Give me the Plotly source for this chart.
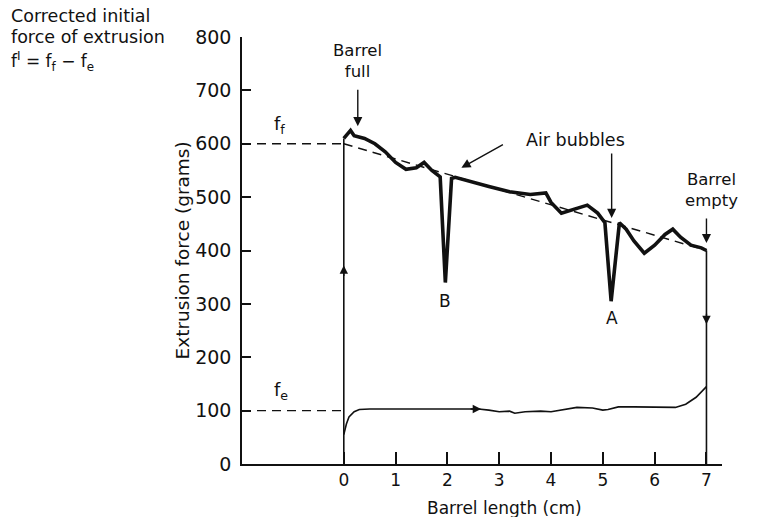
import plotly.graph_objects as go

# ---- data ----
top_x = [0, 0.13, 0.2, 0.4, 0.6, 0.8, 1.0, 1.2, 1.4, 1.55, 1.7, 1.82, 1.86,
         1.96, 2.08, 2.15, 2.4, 2.8, 3.2, 3.6, 3.9, 4.0, 4.2, 4.45, 4.7, 4.9,
         5.0, 5.04, 5.16, 5.32, 5.45, 5.6, 5.8, 6.0, 6.2, 6.35, 6.5, 6.7, 6.9, 7.0]
top_y = [610, 625, 615, 610, 600, 585, 565, 552, 555, 565, 550, 542, 538,
         340, 535, 537, 530, 520, 510, 505, 508, 490, 470, 477, 485, 470,
         455, 452, 305, 452, 440, 418, 395, 410, 430, 440, 425, 410, 405, 400]
rise_x = [0, 0]
rise_y = [0, 610]
fall_x = [7, 7]
fall_y = [400, 0]
fe_x = [0, 0.05, 0.1, 0.2, 0.3, 0.5, 1.0, 2.0, 2.6, 2.8, 3.0, 3.2, 3.3, 3.5, 3.8,
        4.0, 4.3, 4.5, 4.8, 5.0, 5.1, 5.3, 5.6, 6.0, 6.4, 6.6, 6.8, 7.0]
fe_y = [55, 75, 88, 98, 102, 103, 103, 103, 103, 101, 98, 99, 95, 98, 99,
        98, 103, 106, 105, 101, 102, 107, 107, 106, 106, 112, 125, 145]
ff_level = 600
fe_level = 100
trend_x = [0, 7]
trend_y = [600, 400]
x_ticks = [0, 1, 2, 3, 4, 5, 6, 7]
y_ticks = [0, 100, 200, 300, 400, 500, 600, 700, 800]

X_MIN, X_MAX = -1.965, 7.3
FONT = "DejaVu Sans"
BLACK = "#111111"

fig = go.Figure()
dash = "9px,6px"
fig.add_trace(go.Scatter(x=[X_MIN, 0], y=[ff_level, ff_level], mode="lines",
                         line=dict(color=BLACK, width=1.4, dash=dash)))
fig.add_trace(go.Scatter(x=trend_x, y=trend_y, mode="lines",
                         line=dict(color=BLACK, width=1.4, dash=dash)))
fig.add_trace(go.Scatter(x=[X_MIN, 0], y=[fe_level, fe_level], mode="lines",
                         line=dict(color=BLACK, width=1.4, dash=dash)))
fig.add_trace(go.Scatter(x=rise_x, y=rise_y, mode="lines", line=dict(color=BLACK, width=1.6)))
fig.add_trace(go.Scatter(x=fall_x, y=fall_y, mode="lines", line=dict(color=BLACK, width=1.6)))
fig.add_trace(go.Scatter(x=fe_x, y=fe_y, mode="lines", line=dict(color=BLACK, width=1.6)))
fig.add_trace(go.Scatter(x=top_x, y=top_y, mode="lines",
                         line=dict(color=BLACK, width=3.6)))

ann = []

def text(x, y, s, ref="x", size=17, xanchor="center", yanchor="middle", align="center"):
    ann.append(dict(x=x, y=y, xref=ref if ref == "paper" else "x",
                    yref=ref if ref == "paper" else "y", text=s, showarrow=False,
                    font=dict(family=FONT, size=size, color=BLACK),
                    xanchor=xanchor, yanchor=yanchor, align=align))

def arrow(x, y, ax, ay, head=2, size=1.3):
    ann.append(dict(x=x, y=y, xref="x", yref="y", ax=ax, ay=ay, text="",
                    showarrow=True, arrowhead=head, arrowsize=size,
                    arrowwidth=1.4, arrowcolor=BLACK))

# labels
text(0.27, 755, "Barrel<br>full", size=16.5)
arrow(0.27, 633, 0, -38)
text(4.47, 607, "Air bubbles", size=17.5)
arrow(2.27, 555, 43, -24)
arrow(5.17, 461, 0, -66)
text(7.1, 513, "Barrel<br>empty", size=16.5)
arrow(7.0, 414, 0, -26)
text(-1.25, 635, "f<sub>f</sub>", size=18)
text(-1.21, 137, "f<sub>e</sub>", size=18)
text(1.95, 306, "B", size=17)
text(5.17, 273, "A", size=17)
# arrows on lines
arrow(0, 372, 0, 12, head=2, size=1.2)
arrow(7, 262, 0, -12, head=2, size=1.2)
arrow(2.65, 103, -12, 0, head=2, size=1.2)

# top-left note
text(-0.4854, 1.05, "Corrected initial", ref="paper", size=17.5, xanchor="left", align="left")
text(-0.4854, 1.0, "force of extrusion", ref="paper", size=17.5, xanchor="left", align="left")
text(-0.4854, 0.942, "f<sup>I</sup> = f<sub>f</sub> − f<sub>e</sub>", ref="paper", size=17,
     xanchor="left", align="left")
# axis titles
ann.append(dict(x=-0.123, y=0.5, xref="paper", yref="paper", text="Extrusion force (grams)",
                showarrow=False, textangle=-90, xanchor="center", yanchor="middle",
                font=dict(family=FONT, size=18.5, color=BLACK)))
ann.append(dict(x=0.546, y=-0.103, xref="paper", yref="paper", text="Barrel length (cm)",
                showarrow=False, xanchor="center", yanchor="middle",
                font=dict(family=FONT, size=17, color=BLACK)))

fig.update_layout(
    width=757, height=517,
    margin=dict(l=242, r=35, t=37, b=53),
    plot_bgcolor="white", paper_bgcolor="white",
    showlegend=False,
    annotations=ann,
    font=dict(family=FONT, color=BLACK),
)
fig.update_xaxes(range=[X_MIN, X_MAX], showgrid=False, zeroline=False,
                 showline=True, linecolor=BLACK, linewidth=1.6,
                 tickvals=x_ticks, ticktext=[str(v) for v in x_ticks],
                 ticks="inside", ticklen=12, tickwidth=1.5, tickcolor=BLACK,
                 tickfont=dict(family=FONT, size=17, color=BLACK))
fig.update_yaxes(range=[0, 800], showgrid=False, zeroline=False,
                 showline=True, linecolor=BLACK, linewidth=1.6,
                 tickvals=y_ticks, ticks="inside", ticklen=9, tickwidth=1.5,
                 tickcolor=BLACK, ticklabelstandoff=5,
                 tickfont=dict(family=FONT, size=19, color=BLACK))

fig.write_html("out.html")
